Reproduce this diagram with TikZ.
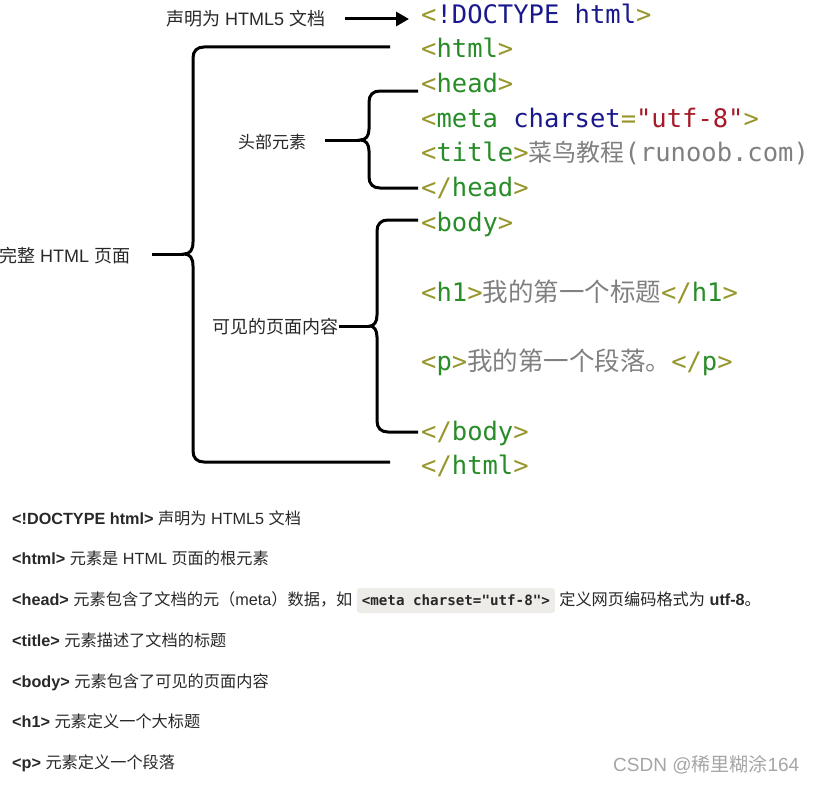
\documentclass[tikz,border=0pt]{standalone}
\usepackage{fontspec}
\setmainfont{Liberation Sans}
\newfontfamily\cjk{Noto Sans CJK SC}
\newfontfamily\codefont{DejaVu Sans Mono}
\usetikzlibrary{arrows.meta}
\definecolor{olv}{RGB}{150,150,45}
\definecolor{grn}{RGB}{40,140,40}
\definecolor{nvy}{RGB}{25,25,140}
\definecolor{strred}{RGB}{165,25,40}
\definecolor{gry}{RGB}{128,128,128}
\definecolor{txt}{RGB}{40,40,40}
\definecolor{codebg}{RGB}{238,236,232}
\definecolor{wm}{RGB}{165,165,165}
\newcommand\zh[1]{{\cjk #1}}
\newcommand\tg[1]{\textcolor{olv}{<}\textcolor{grn}{#1}\textcolor{olv}{>}}
\newcommand\ctg[1]{\textcolor{olv}{</}\textcolor{grn}{#1}\textcolor{olv}{>}}
\tikzset{
  codeline/.style={anchor=base west, inner sep=0pt, font=\codefont\fontsize{25.5}{30}\selectfont},
  lbl/.style={anchor=west, inner sep=0pt, text=txt, font=\fontsize{18}{22}\selectfont},
  desc/.style={anchor=base west, inner sep=0pt, text=txt, font=\fontsize{16.2}{19}\selectfont},
  brace/.style={line width=3pt},
  conn/.style={line width=3pt},
}
\begin{document}
\begin{tikzpicture}[x=1pt,y=-1pt]
\path[use as bounding box] (0,0) rectangle (816,784);
\clip (0,0) rectangle (816,784);

% code lines
\node[codeline] (r0) at (421,23.5) {\textcolor{olv}{<}\textcolor{nvy}{!DOCTYPE html}\textcolor{olv}{>}};
\node[codeline] (r1) at (421,58) {\tg{html}};
\node[codeline] (r2) at (421,92.5) {\tg{head}};
\node[codeline] (r3) at (421,127.5) {\textcolor{olv}{<}\textcolor{grn}{meta} \textcolor{nvy}{charset}\textcolor{olv}{=}\textcolor{strred}{"utf-8"}\textcolor{olv}{>}};
\node[codeline] (r4) at (421,161.5) {\tg{title}\textcolor{gry}{{\cjk\fontsize{24}{30}\selectfont 菜鸟教程}(runoob.com)}};
\node[codeline] (r5) at (421,196.5) {\ctg{head}};
\node[codeline] (r6) at (421,231.5) {\tg{body}};
\node[codeline] (r7) at (421,301.5) {\tg{h1}\textcolor{gry}{\zh{我的第一个标题}}\ctg{h1}};
\node[codeline] (r8) at (421,370.5) {\tg{p}\textcolor{gry}{\zh{我的第一个段落。}}\ctg{p}};
\node[codeline] (r9) at (421,440.5) {\ctg{body}};
\node[codeline] (r10) at (421,474.5) {\ctg{html}};

% labels
\node[lbl] (decl) at (166,19) {\zh{声明为} HTML5 \zh{文档}};
\node[lbl,font=\fontsize{17}{21}\selectfont] (lhead) at (238,142) {\zh{头部元素}};
\node[lbl] (lbig) at (-1,256) {\zh{完整} HTML \zh{页面}};
\node[lbl] (lbody) at (212,327) {\zh{可见的页面内容}};

% arrow
\draw[conn,-{Triangle[length=13pt,width=14pt]},shorten <=20pt,shorten >=12pt] (decl.east) -- (decl.east -| r0.west);

% big brace
\coordinate (bT) at (390,47);
\coordinate (bB) at (390,462);
\coordinate (bM) at (184,254);
\draw[brace] (bT) -- (204,47) .. controls (197,47) and (193,51) .. (193,58)
  -- (193,242) .. controls (193,250) and (190,254) .. (bM)
  .. controls (190,254) and (193,258) .. (193,266)
  -- (193,451) .. controls (193,458) and (197,462) .. (204,462) -- (bB);
\draw[conn,shorten <=22pt] (bM -| lbig.east) -- (bM);

% head brace
\coordinate (hT) at (418,91);
\coordinate (hB) at (418,188);
\coordinate (hM) at (360,140);
\draw[brace] (hT) -- (380,91) .. controls (373,91) and (369,95) .. (369,102)
  -- (369,129) .. controls (369,136) and (366,140) .. (hM)
  .. controls (366,140) and (369,144) .. (369,151)
  -- (369,177) .. controls (369,184) and (373,188) .. (380,188) -- (hB);
\draw[conn,shorten <=19pt] (hM -| lhead.east) -- (hM);

% body brace
\coordinate (dT) at (418,220);
\coordinate (dB) at (418,432);
\coordinate (dM) at (370,326);
\draw[brace] (dT) -- (388,220) .. controls (381,220) and (377,224) .. (377,231)
  -- (377,315) .. controls (377,322) and (374,326) .. (dM)
  .. controls (374,326) and (377,330) .. (377,337)
  -- (377,421) .. controls (377,428) and (381,432) .. (388,432) -- (dB);
\draw[conn,shorten <=1pt] (dM -| lbody.east) -- (dM);

% descriptions
\node[desc] (b1) at (12,524.5) {\textbf{<!DOCTYPE html>} \zh{声明为} HTML5 \zh{文档}};
\node[desc] (b2) at (12,564.5) {\textbf{<html>} \zh{元素是} HTML \zh{页面的根元素}};
\node[desc] (b3) at (12,605.5) {\textbf{<head>} \zh{元素包含了文档的元（}meta\zh{）数据，如}};
\node[anchor=base west, fill=codebg, rounded corners=3pt, inner xsep=5pt, inner ysep=5pt, text height=12.5pt, text depth=2.5pt, text=txt, font=\codefont\bfseries\fontsize{14.2}{17}\selectfont] (b3code) at ([xshift=4pt]b3.base east) {<meta charset="utf-8">};
\node[desc] (b3end) at ([xshift=4pt]b3code.base east) {\zh{定义网页编码格式为} \textbf{utf-8}\zh{。}};
\node[desc] (b4) at (12,646.5) {\textbf{<title>} \zh{元素描述了文档的标题}};
\node[desc] (b5) at (12,687.5) {\textbf{<body>} \zh{元素包含了可见的页面内容}};
\node[desc] (b6) at (12,727.5) {\textbf{<h1>} \zh{元素定义一个大标题}};
\node[desc] (b7) at (12,768.5) {\textbf{<p>} \zh{元素定义一个段落}};

% watermark
\node[anchor=west, inner sep=0pt, text=wm, font=\fontsize{19}{23}\selectfont] (wmk) at (613,765) {CSDN @\zh{稀里糊涂}164};
\end{tikzpicture}
\end{document}
